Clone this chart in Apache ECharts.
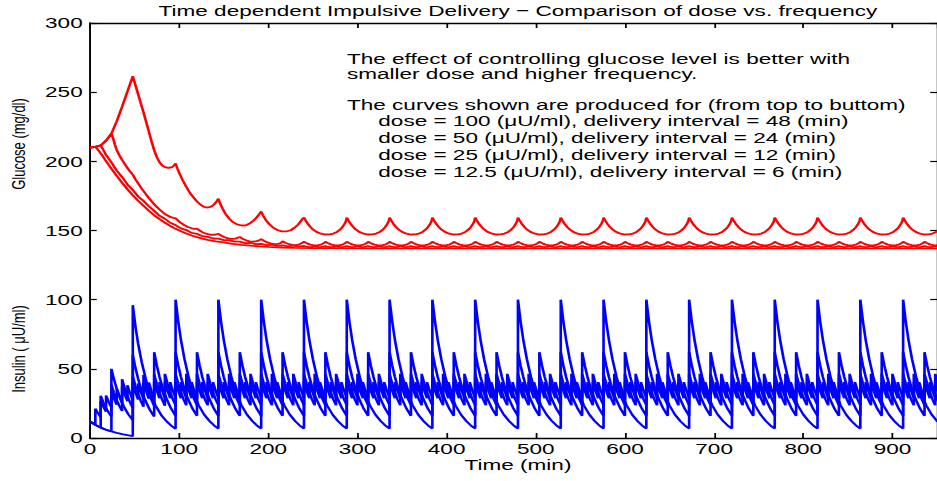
<!DOCTYPE html>
<html>
<head>
<meta charset="utf-8">
<script src="https://cdn.jsdelivr.net/npm/echarts@6/dist/echarts.min.js"></script>
<style>
html,body{margin:0;padding:0;background:#fff;overflow:hidden;}
#c{width:640px;height:481px;transform:scaleX(1.4640625);transform-origin:0 0;}
</style>
</head>
<body>
<div id="c"></div>
<script>
// ---------------- data ----------------
const xTicks = [0,100,200,300,400,500,600,700,800,900];
const yTicks = [0,50,100,150,200,250,300];

// delivery times (min)
const dosesA = [48,96,144,192,240,288,336,384,432,480,528,576,624,672,720,768,816,864,912];
const dosesB = [24,48,72,96,120,144,168,192,216,240,264,288,312,336,360,384,408,432,456,480,504,528,552,576,600,624,648,672,696,720,744,768,792,816,840,864,888,912,936];
const dosesC = [12,24,36,48,60,72,84,96,108,120,132,144,156,168,180,192,204,216,228,240,252,264,276,288,300,312,324,336,348,360,372,384,396,408,420,432,444,456,468,480,492,504,516,528,540,552,564,576,588,600,612,624,636,648,660,672,684,696,708,720,732,744,756,768,780,792,804,816,828,840,852,864,876,888,900,912,924,936,948];
const dosesD = [6,12,18,24,30,36,42,48,54,60,66,72,78,84,90,96,102,108,114,120,126,132,138,144,150,156,162,168,174,180,186,192,198,204,210,216,222,228,234,240,246,252,258,264,270,276,282,288,294,300,306,312,318,324,330,336,342,348,354,360,366,372,378,384,390,396,402,408,414,420,426,432,438,444,450,456,462,468,474,480,486,492,498,504,510,516,522,528,534,540,546,552,558,564,570,576,582,588,594,600,606,612,618,624,630,636,642,648,654,660,666,672,678,684,690,696,702,708,714,720,726,732,738,744,750,756,762,768,774,780,786,792,798,804,810,816,822,828,834,840,846,852,858,864,870,876,882,888,894,900,906,912,918,924,930,936,942,948];

// insulin before any delivery (shared by the four runs)
const insBaseT = [0,6,12,18,24,30,36,42,48];
const insBaseV = [12,9.5,7.5,6.0,4.8,3.7,2.8,2.0,1.3];

// insulin after each delivery: minutes after the dose, and values
const insA_off = [0,3,6,10,15,20,26,32,38,43,48];
const insA_first = [[96,80.6,68,54.8,41.5,31.5,22.8,16.5,12,9,6.6]];
const insA_steady = [100,84,71,57,43,32.5,23.5,17,12.3,9.2,6.8];

const insB_off = [0,3,6,10,14,19,24];
const insB_first = [[50,42.2,35.6,28.4,22.7,17.1,13.0],[60,50.6,42.7,34.1,27.2,20.5,15.5]];
const insB_steady = [62,52.3,44.1,35.2,28.1,21.2,16.0];

const insC_off = [0,3,6,9,12];
const insC_first = [[30.5,25.7,21.7,18.3,15.5],[38.5,32.5,27.4,23.1,19.5],[42.5,35.9,30.3,25.6,21.6],[44.6,37.6,31.8,26.8,22.6],[45.6,38.5,32.5,27.4,23.1],[46.1,38.9,32.8,27.7,23.4]];
const insC_steady = [46.4,39.2,33.1,27.9,23.6];

const insD_off = [0,3,6];
const insD_first = [[21.2,17.9,15.1],[26.8,22.6,19.1],[30.8,26,22],[33.7,28.4,24],[35.7,30.1,25.5],[37.2,31.4,26.5],[38.2,32.2,27.3],[39,32.9,27.8],[39.5,33.3,28.2],[39.9,33.7,28.4],[40.1,33.8,28.6]];
const insD_steady = [40.4,34.1,28.8];

// glucose, transient part
const gluA_T = [0,6,12,18,24,30,36,42,48,51,54,57,60,63,66,69,72,75,78,81,84,88,92,94,96,98,101,104,108,112,116,120,124,128,132,136,139,142,144,146,149,152,156,160,165,170,175,179,183,186,189,192,194,197,201,205,210,215,220,225,229,233,236,238];
const gluA_V = [210,210.5,211.5,215,220,229,239.5,250.5,261.5,255,248.5,242,235.5,228.5,221.5,214.5,208,203,199.3,197,195.8,195.2,195.8,196.8,198.5,194.8,190.3,186.3,181.5,177.3,174,171,168.6,167.1,166.6,167.3,168.8,171,173,169.4,165.5,162,158.7,156.2,154.4,153.6,153.8,155,156.9,158.8,161,163.8,161,157.8,154.7,152.3,150.4,149.4,149.3,150.2,151.8,154,156.3,158.2];
const gluB_T = [0,6,12,18,24,26,28,30,33,36,40,44,48,51,54,58,62,66,70,74,78,82,86,90,94,96,99,102,106,110,114,117,120,123,126,130,134,138,141,144,147,151,155,159,163,166,168,171,175,179,183,187,190,192,195,199,203,207,211,214,216,219,223,227,231,235,238];
const gluB_V = [210,210.5,211.5,215,220,216.5,212,208.2,204.3,201,197,193.4,190.4,187,184,180.3,176.8,173.5,170.4,167.6,165.2,163,161.2,159.8,159,158.9,157,155.5,153.8,152.5,151.6,151.2,151.3,150,148.8,147.7,147.1,146.9,147.1,147.6,146.4,145.1,144.3,144,144.2,144.8,145.3,144.1,142.9,142.2,142,142.3,143,143.8,142.6,141.4,140.6,140.2,140.3,141,142.2,141.1,140.1,139.6,139.5,140,140.9];
const gluC_T = [0,6,9,12,15,18,24,30,36,42,48,54,60,66,72,78,84,90,96,102,108,114,120,126,132,138,144,150,156,162,168,174,180,186,192,198,204,210,216,222,228,234];
const gluC_V = [210,210.5,211,211.5,208.2,204.7,199.2,193.3,188.7,183.3,179.3,174.6,171.4,167.5,164.2,160.7,158.5,155.6,153.9,151.5,150.3,148.3,147.6,145.9,145.4,144.2,144.1,143.0,143.0,141.9,141.9,140.9,141.0,140.1,140.3,139.5,139.7,139.0,139.3,138.6,139.0,138.4];
const gluD_T = [0,3,6,9,12,15,18,21,24,27,30,36,42,48,54,60,66,72,78,84,90,96,102,108,114,120,126,132,141,150,160,170,180,190,200,215,230,250,280,320,400,950];
const gluD_V = [210,210.3,210.5,208.3,205.8,203,200.2,197.4,194.7,192.1,189.5,184.5,179.8,175.5,171.5,167.9,164.3,161,158.2,155.6,153.3,151.2,149.4,147.8,146.4,145.2,144.1,143.2,142.2,141.4,140.4,139.6,139,138.5,138.1,137.7,137.5,137.3,137.2,137.1,137.1,137.1];

// glucose, periodic part (one delivery cycle, repeated at each delivery from t = 240)
const gluSteadyStart = 240;
const gluA_off = [0,2,4,7,10,14,19,24,29,33,37,40,43,45,47,48];
const gluA_cyc = [159.3,157.1,155.1,152.7,150.8,149,147.7,147.1,147.2,147.8,149,150.4,152.4,154.2,156.6,159.3];
const gluB_off = [0,2,4,7,10,13,16,19,21,23,24];
const gluB_cyc = [142,141.2,140.5,139.8,139.4,139.3,139.4,139.8,140.4,141.1,142];
const gluC_off = [0,2,4,6,8,10,12];
const gluC_cyc = [138.8,138.4,138.1,138,138.1,138.4,138.8];

// ---------------- build series ----------------
function build(baseT, baseV, doses, offsets, transient, steady) {
  const pts = [];
  for (let i = 0; i < baseT.length; i++) if (baseT[i] <= doses[0]) pts.push([baseT[i], baseV[i]]);
  doses.forEach((t, k) => {
    const shape = k < transient.length ? transient[k] : steady;
    offsets.forEach((o, j) => pts.push([t + o, shape[j]]));
  });
  return pts;
}
const after = (d) => d.filter(t => t >= gluSteadyStart);

const insA = build(insBaseT, insBaseV, dosesA, insA_off, insA_first, insA_steady);
const insB = build(insBaseT, insBaseV, dosesB, insB_off, insB_first, insB_steady);
const insC = build(insBaseT, insBaseV, dosesC, insC_off, insC_first, insC_steady);
const insD = build(insBaseT, insBaseV, dosesD, insD_off, insD_first, insD_steady);
const gluA = build(gluA_T, gluA_V, after(dosesA), gluA_off, [], gluA_cyc);
const gluB = build(gluB_T, gluB_V, after(dosesB), gluB_off, [], gluB_cyc);
const gluC = build(gluC_T, gluC_V, after(dosesC), gluC_off, [], gluC_cyc);
const gluD = gluD_T.map((t, i) => [t, gluD_V[i]]);

// ---------------- chart ----------------
const FONT = '"Liberation Sans", Arial, Helvetica, sans-serif';
const chart = echarts.init(document.getElementById('c'), null, {renderer: 'svg', width: 640, height: 481});
const axLine = {show: true, onZero: false, lineStyle: {color: '#000', width: 1.3}};
function xAx(pos, labels) {
  return {type: 'value', position: pos, min: 0, max: 950, interval: 100,
    axisLine: axLine,
    axisTick: {show: true, inside: true, length: 5, lineStyle: {color: '#000', width: 1.2}},
    axisLabel: {show: labels, color: '#000', fontSize: 15.4, fontFamily: FONT, margin: 3, showMaxLabel: false,
      formatter: v => xTicks.includes(v) ? String(v) : ''},
    splitLine: {show: false}};
}
function yAx(pos, labels) {
  return {type: 'value', position: pos, min: 0, max: 300, interval: 50,
    axisLine: axLine,
    axisTick: {show: true, inside: true, length: 4.6, lineStyle: {color: '#000', width: 1.2}},
    axisLabel: {show: labels, color: '#000', fontSize: 15.4, fontFamily: FONT, margin: 5,
      formatter: v => yTicks.includes(v) ? String(v) : ''},
    splitLine: {show: false}};
}
function line(data, color) {
  return {type: 'line', data: data, showSymbol: false, symbol: 'none', clip: true,
    lineStyle: {color: color, width: 1.8}, itemStyle: {color: color}, animation: false, silent: true};
}
function txt(x, y, s, opt) {
  return Object.assign({type: 'text', x: x, y: y, silent: true,
    style: Object.assign({text: s, fill: '#000', fontSize: 15.4, fontFamily: FONT, align: 'left', verticalAlign: 'middle'}, (opt && opt.style) || {})},
    opt && opt.rotation !== undefined ? {rotation: opt.rotation} : {});
}
const ax = 237.0, ai = 258.4;
chart.setOption({
  animation: false,
  backgroundColor: '#fff',
  grid: {left: 61.47, right: 0, top: 23, bottom: 43, containLabel: false},
  xAxis: [xAx('bottom', true), xAx('top', false)],
  yAxis: [yAx('left', true), yAx('right', false)],
  series: [
    line(gluA, '#ff0000'), line(gluB, '#ff0000'), line(gluC, '#ff0000'), line(gluD, '#ff0000'),
    line(insA, '#0000ff'), line(insB, '#0000ff'), line(insC, '#0000ff'), line(insD, '#0000ff')
  ],
  graphic: [
    txt(353.8, 10.5, 'Time dependent Impulsive Delivery \u2212 Comparison of dose vs. frequency', {style: {align: 'center'}}),
    txt(353.8, 465, 'Time (min)', {style: {align: 'center'}}),
    txt(12, 144, 'Glucose (mg/dl)', {rotation: Math.PI / 2, style: {align: 'center', fontSize: 13}}),
    txt(12, 349, 'Insulin ( \u03bcU/ml)', {rotation: Math.PI / 2, style: {align: 'center', fontSize: 13}}),
    txt(ax, 59, 'The effect of controlling glucose level is better with'),
    txt(ax, 74, 'smaller dose and higher frequency.'),
    txt(ax, 104.5, 'The curves shown are produced for (from top to buttom)'),
    txt(ai, 121, 'dose = 100 (\u03bcU/ml), delivery interval = 48 (min)'),
    txt(ai, 138.3, 'dose = 50 (\u03bcU/ml), delivery interval = 24 (min)'),
    txt(ai, 155, 'dose = 25 (\u03bcU/ml), delivery interval = 12 (min)'),
    txt(ai, 171.7, 'dose = 12.5 (\u03bcU/ml), delivery interval = 6 (min)')
  ]
});
</script>
</body>
</html>
